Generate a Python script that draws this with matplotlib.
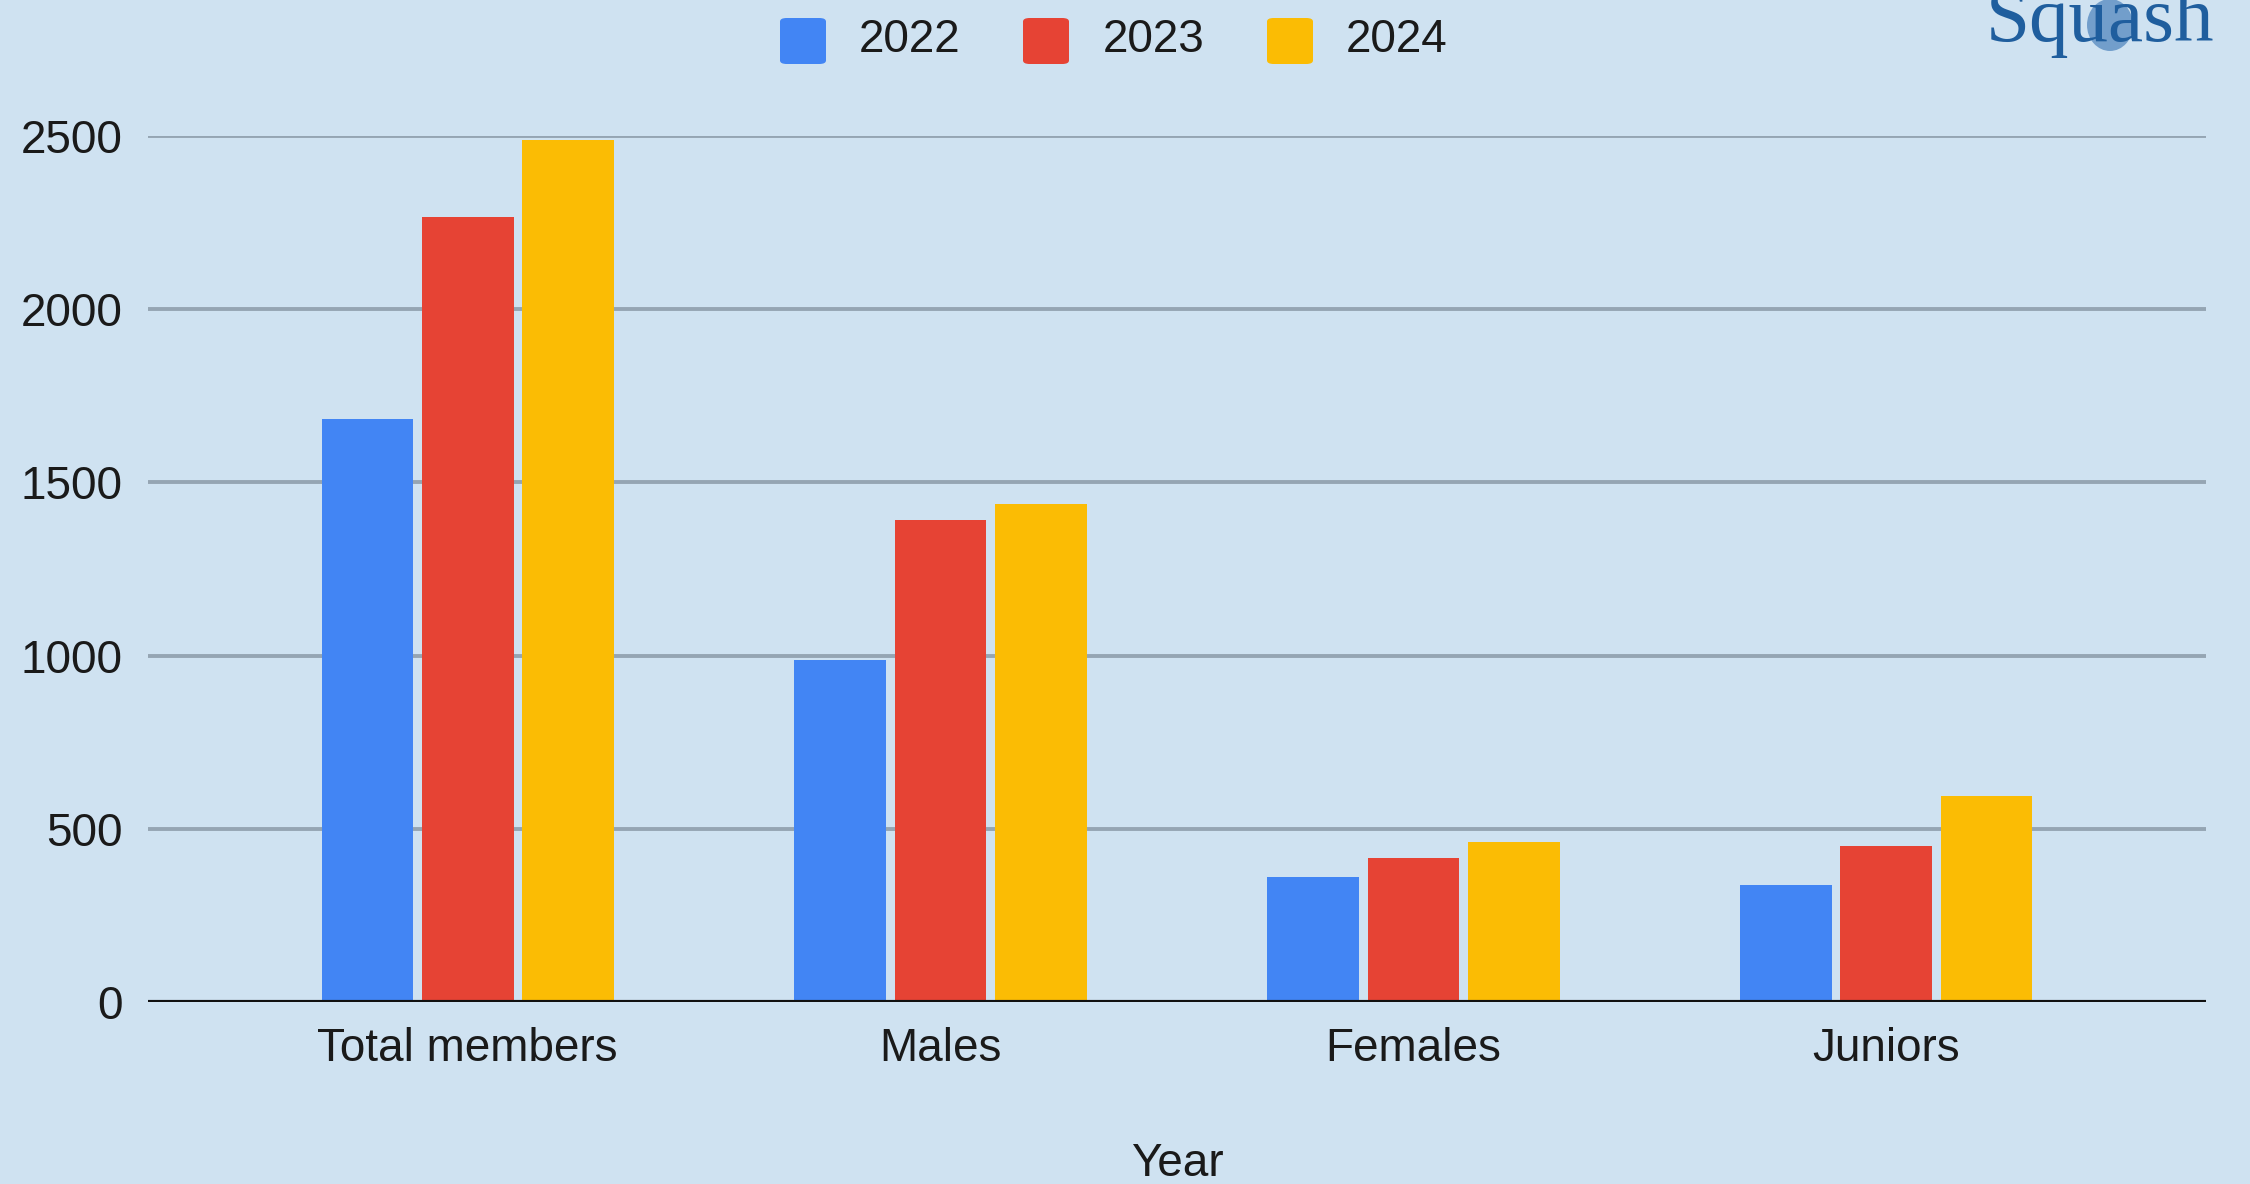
import matplotlib
matplotlib.use("Agg")
import matplotlib.pyplot as plt
import numpy as np
from matplotlib.patches import FancyBboxPatch, Ellipse

categories = ["Total members", "Males", "Females", "Juniors"]
series_names = ["2022", "2023", "2024"]
values_2022 = [1683, 986, 360, 338]
values_2023 = [2265, 1392, 417, 449]
values_2024 = [2489, 1437, 461, 596]
y_ticks = [0, 500, 1000, 1500, 2000, 2500]
x_title = "Year"
logo_text = "Squash"

colors = ["#4285F4", "#E64334", "#FBBC04"]
bg = "#CFE2F1"
W, H = 2250, 1184

plt.rcParams["font.family"] = ["Liberation Sans", "DejaVu Sans"]

fig = plt.figure(figsize=(W / 100, H / 100), dpi=100)
fig.patch.set_facecolor(bg)
ax = fig.add_axes([148 / W, 1 - 1002 / H, (2206 - 148) / W, (1002 - 136) / H])
ax.set_facecolor(bg)

x = np.arange(len(categories))
bw = 0.194
step = 0.212
for i, (vals, c) in enumerate(zip([values_2022, values_2023, values_2024], colors)):
    ax.bar(x + (i - 1) * step, vals, width=bw, color=c, zorder=3, linewidth=0)

ax.set_xlim(-0.676, 3.676)
ax.set_ylim(0, 2500)
ax.set_yticks(y_ticks)
ax.set_yticklabels([str(t) for t in y_ticks])
ax.set_xticks(x)
ax.set_xticklabels(categories)
ax.tick_params(axis="both", length=0, labelsize=33, colors="#1A1A1A")
ax.tick_params(axis="y", pad=18)
ax.tick_params(axis="x", pad=18)
for s in ax.spines.values():
    s.set_visible(False)
ax.grid(axis="y", color="#95A5B3", linewidth=2.8, zorder=1)
ax.axhline(0, color="#111111", linewidth=3, zorder=4)

fig.text(1177 / W, 1 - 1164 / H, x_title, ha="center", va="center", fontsize=33, color="#1A1A1A")

# legend
sq_x = [780, 1023, 1267]
tx_x = [859, 1103, 1346]
for sx, tx, name, c in zip(sq_x, tx_x, series_names, colors):
    p = FancyBboxPatch((sx / W, 1 - 64 / H), 46 / W, 46 / H,
                       boxstyle="round,pad=0,rounding_size=0.003",
                       transform=fig.transFigure, facecolor=c, edgecolor="none")
    fig.patches.append(p)
    fig.text(tx / W, 1 - 40 / H, name, ha="left", va="center", fontsize=33, color="#1A1A1A")

# logo
blob = Ellipse((2110 / W, 1 - 25 / H), 46 / W, 52 / H, transform=fig.transFigure,
               facecolor="#3472B3", edgecolor="none", alpha=0.6)
fig.patches.append(blob)
fig.text(1986 / W, 1 - 41 / H, logo_text, ha="left", va="baseline", fontsize=57,
         family=["Liberation Serif", "DejaVu Serif"], color="#1F5E9E")

fig.savefig("out.png", dpi=100, facecolor=bg)
